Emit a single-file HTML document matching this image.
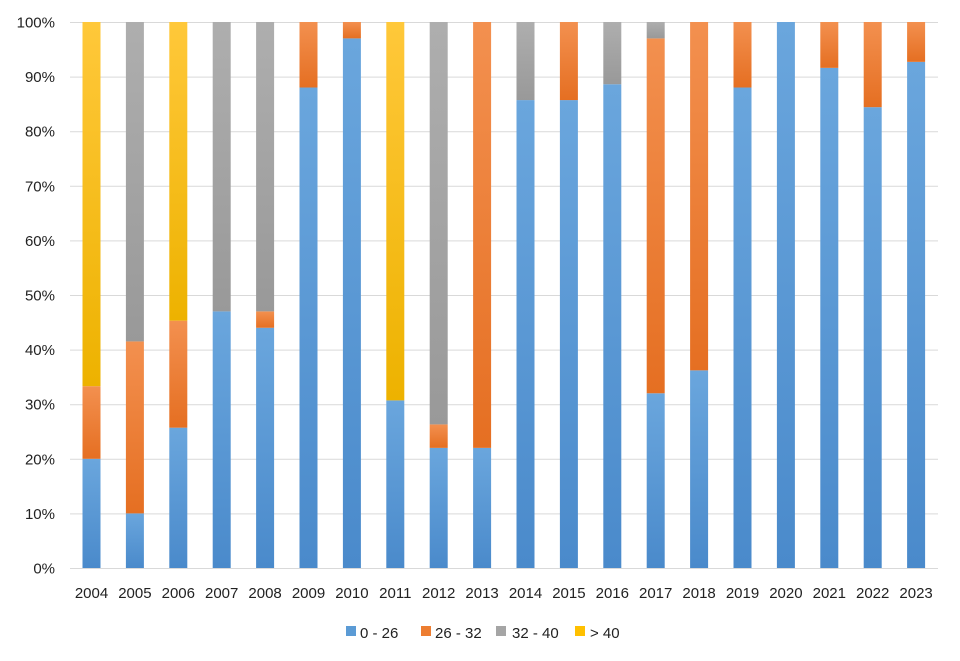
<!DOCTYPE html>
<html><head><meta charset="utf-8"><style>body{margin:0;background:#fff}svg{display:block}text{font-family:"Liberation Sans",sans-serif;fill:#222}</style></head><body>
<svg width="960" height="661" viewBox="0 0 960 661">
<defs>
<linearGradient id="b" x1="0" y1="0" x2="0" y2="1"><stop offset="0" stop-color="#6AA6DD"/><stop offset="1" stop-color="#4A8ACB"/></linearGradient>
<linearGradient id="o" x1="0" y1="0" x2="0" y2="1"><stop offset="0" stop-color="#F3904F"/><stop offset="1" stop-color="#E56F22"/></linearGradient>
<linearGradient id="g" x1="0" y1="0" x2="0" y2="1"><stop offset="0" stop-color="#AEAEAE"/><stop offset="1" stop-color="#999"/></linearGradient>
<linearGradient id="y" x1="0" y1="0" x2="0" y2="1"><stop offset="0" stop-color="#FFC83A"/><stop offset="1" stop-color="#EDB200"/></linearGradient>
</defs>
<g id="grid" stroke="#d9d9d9" stroke-width="1"></g>
<g id="bars"></g>
<g id="lbl" font-size="15"></g>
<g font-size="15">
<rect x="346" y="626" width="10" height="10" fill="#5B9BD5"/><text x="360" y="638">0 - 26</text>
<rect x="421" y="626" width="10" height="10" fill="#ED7D31"/><text x="435" y="638">26 - 32</text>
<rect x="496" y="626" width="10" height="10" fill="#A5A5A5"/><text x="512" y="638">32 - 40</text>
<rect x="575" y="626" width="10" height="10" fill="#FFC000"/><text x="590" y="638">&gt; 40</text>
</g>
</svg>
<script>
(function(){
const ns="http://www.w3.org/2000/svg";
const T=22,B=568,H=B-T;
const grid=document.getElementById('grid'),lbl=document.getElementById('lbl'),bars=document.getElementById('bars');
function el(t,a,p){const e=document.createElementNS(ns,t);for(const k in a)e.setAttribute(k,a[k]);p.appendChild(e);return e;}
for(let i=0;i<=10;i++){const y=B-H*i/10+0.5;el('line',{x1:70,x2:938,y1:y,y2:y},grid);const t=el('text',{x:55,y:y+5,'text-anchor':'end'},lbl);t.textContent=i*10+'%';}
const d=[[20,33.3,33.3],[10,41.5,100],[25.7,45.3,45.3],[47,47,100],[44,47,100],[88,100,100],[97,100,100],[30.7,30.7,30.7],[22,26.3,100],[22,100,100],[85.7,85.7,100],[85.7,100,100],[88.6,88.6,100],[32,97,100],[36.2,100,100],[88,100,100],[100,100,100],[91.6,100,100],[84.4,100,100],[92.7,100,100]];
const f=['url(#b)','url(#o)','url(#g)','url(#y)'];
d.forEach((v,i)=>{const c=91.5+i*43.4;const cum=[0,...v,100];
for(let k=0;k<4;k++){const a=cum[k],b=cum[k+1];if(b-a<=0)continue;const y1=B-H*b/100,y0=B-H*a/100;el('rect',{x:c-9,y:y1,width:18,height:y0-y1,fill:f[k]},bars);}
const t=el('text',{x:c,y:598,'text-anchor':'middle'},lbl);t.textContent=2004+i;});
})();
</script>
</body></html>
